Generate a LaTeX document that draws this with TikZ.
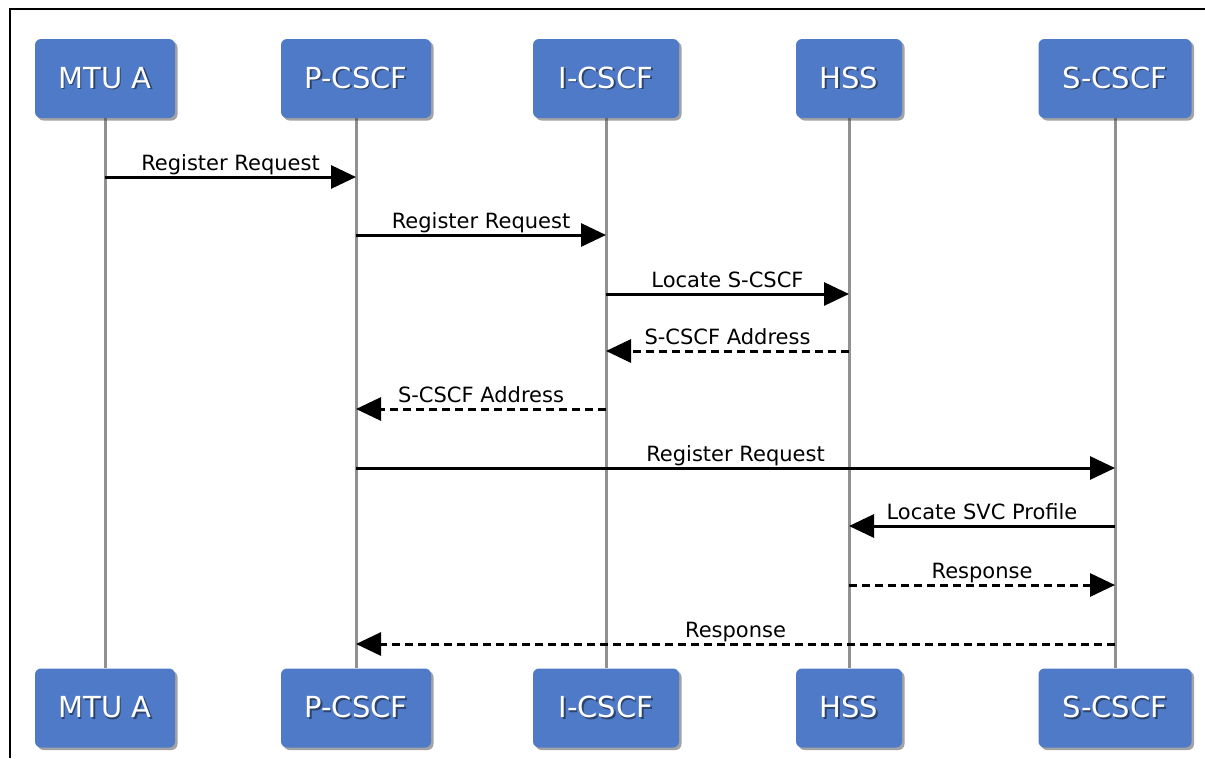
\documentclass[tikz,border=0pt]{standalone}
\usepackage{fontspec}
\setmainfont{DejaVu Sans}
\usetikzlibrary{arrows.meta,shadows}
\definecolor{boxblue}{RGB}{79,122,199}
\definecolor{lifegray}{RGB}{145,145,145}
\newcommand{\shtxt}[1]{\makebox[0pt][l]{\hspace{1.5pt}\raisebox{-1.5pt}{\textcolor{boxblue!55!black}{#1}}}#1}
\begin{document}
\begin{tikzpicture}[x=1pt,y=-1pt,
  actor/.style={draw=none, fill=boxblue, rounded corners=6pt, text=white,
    font=\fontsize{29}{32}\selectfont, minimum height=79pt, inner sep=0pt,
    drop shadow={shadow xshift=2.5pt,shadow yshift=-2.5pt,opacity=0.45,fill=black!80}},
  life/.style={draw=lifegray, line width=3pt},
  msg/.style={line width=3pt, -{Triangle[length=25pt,width=23pt]}},
  reply/.style={msg, dash pattern=on 8pt off 5pt},
  lbl/.style={font=\fontsize{21}{24}\selectfont, anchor=base, inner sep=0pt, yshift=7pt}
]
\useasboundingbox (0,0) rectangle (1205,758);
\fill[white] (0,0) rectangle (1205,758);
\draw[line width=2.5pt] (10,758) -- (10,9) -- (1205,9);

% lifelines first (behind boxes)
\foreach \x in {105,356,606,849,1115}{
  \coordinate (lt\x) at (\x,118);
  \coordinate (lb\x) at (\x,668);
  \draw[life] (lt\x) -- (lb\x);
}

% top boxes
\node[actor, minimum width=140pt] (tM) at (105,78.5) {\shtxt{MTU A}};
\node[actor, minimum width=150pt] (tP) at (356,78.5) {\shtxt{P-CSCF}};
\node[actor, minimum width=146pt] (tI) at (606,78.5) {\shtxt{I-CSCF}};
\node[actor, minimum width=106pt] (tH) at (849,78.5) {\shtxt{HSS}};
\node[actor, minimum width=153pt] (tS) at (1115,78.5) {\shtxt{S-CSCF}};
% bottom boxes
\node[actor, minimum width=140pt] (bM) at (105,708) {\shtxt{MTU A}};
\node[actor, minimum width=150pt] (bP) at (356,708) {\shtxt{P-CSCF}};
\node[actor, minimum width=146pt] (bI) at (606,708) {\shtxt{I-CSCF}};
\node[actor, minimum width=106pt] (bH) at (849,708) {\shtxt{HSS}};
\node[actor, minimum width=153pt] (bS) at (1115,708) {\shtxt{S-CSCF}};

% message anchor points
\coordinate (m1) at (105,177);  \coordinate (p1) at (356,177);
\coordinate (p2) at (356,235);  \coordinate (i2) at (606,235);
\coordinate (i3) at (606,294);  \coordinate (h3) at (849,294);
\coordinate (h4) at (849,351);  \coordinate (i4) at (606,351);
\coordinate (i5) at (606,409);  \coordinate (p5) at (356,409);
\coordinate (p6) at (356,468);  \coordinate (s6) at (1115,468);
\coordinate (s7) at (1115,526); \coordinate (h7) at (849,526);
\coordinate (h8) at (849,585);  \coordinate (s8) at (1115,585);
\coordinate (s9) at (1115,644); \coordinate (p9) at (356,644);

\draw[msg] (m1) -- node[lbl]{Register Request} (p1);
\draw[msg] (p2) -- node[lbl]{Register Request} (i2);
\draw[msg] (i3) -- node[lbl]{Locate S-CSCF} (h3);
\draw[reply] (h4) -- node[lbl]{S-CSCF Address} (i4);
\draw[reply] (i5) -- node[lbl]{S-CSCF Address} (p5);
\draw[msg] (p6) -- node[lbl]{Register Request} (s6);
\draw[msg] (s7) -- node[lbl]{Locate SVC Profile} (h7);
\draw[reply] (h8) -- node[lbl]{Response} (s8);
\draw[reply] (s9) -- node[lbl]{Response} (p9);
\end{tikzpicture}
\end{document}
